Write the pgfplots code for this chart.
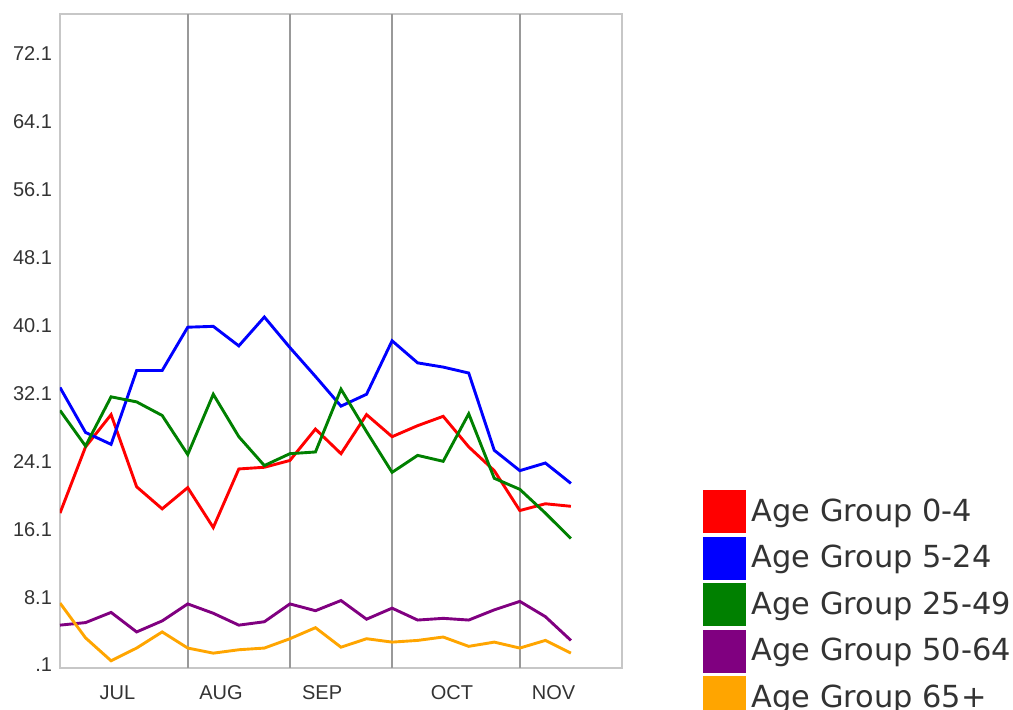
\documentclass[border=0pt]{standalone}
\usepackage{pgfplots}
\usepackage{pgfplotstable}
\pgfplotsset{compat=1.18}
\usepackage{fontspec}
\setmainfont{Liberation Sans}
\newfontfamily\legendfont{DejaVu Sans}

\definecolor{cRed}{RGB}{255,0,0}
\definecolor{cBlue}{RGB}{0,0,255}
\definecolor{cGreen}{RGB}{0,128,0}
\definecolor{cPurple}{RGB}{128,0,128}
\definecolor{cOrange}{RGB}{255,165,0}

\pgfplotstableread{
i  a    b    c    d   e
0  18.0 32.8 30.1 4.8 7.4
1  25.8 27.5 25.9 5.1 3.3
2  29.6 26.1 31.7 6.3 0.6
3  21.1 34.8 31.1 4.0 2.1
4  18.5 34.8 29.5 5.3 4.0
5  21.0 39.9 24.9 7.3 2.1
6  16.3 40.0 32.0 6.2 1.5
7  23.2 37.7 27.0 4.8 1.9
8  23.4 41.1 23.6 5.2 2.1
9  24.2 37.5 25.0 7.3 3.2
10 27.9 34.1 25.2 6.5 4.5
11 25.0 30.6 32.6 7.7 2.2
12 29.6 32.0 27.6 5.5 3.2
13 27.0 38.3 22.8 6.8 2.8
14 28.3 35.7 24.8 5.4 3.0
15 29.4 35.2 24.1 5.6 3.4
16 25.8 34.5 29.7 5.4 2.3
17 23.0 25.4 22.1 6.6 2.8
18 18.3 23.0 20.8 7.6 2.1
19 19.1 23.9 18.0 5.8 3.0
20 18.8 21.5 15.0 3.0 1.5
}\data

\begin{document}
\begin{tikzpicture}
\begin{axis}[
  scale only axis, width=281pt, height=327pt,
  xmin=0, xmax=22, ymin=-0.25, ymax=76.8,
  xtick={2.25,6.3,10.26,15.34,19.32},
  xticklabels={JUL,AUG,SEP,OCT,NOV},
  ytick={0.1,8.1,16.1,24.1,32.1,40.1,48.1,56.1,64.1,72.1},
  yticklabels={.1,8.1,16.1,24.1,32.1,40.1,48.1,56.1,64.1,72.1},
  major tick length=0pt,
  tick style={draw=none},
  extra x ticks={5,9,13,18},
  extra x tick labels={},
  extra x tick style={grid=major, major grid style={draw=black!40, line width=1pt}},
  axis line style={draw=black!22, line width=1pt},
  tick label style={font=\fontsize{10}{12}\selectfont, text=black!80},
  xticklabel style={yshift=-5.2pt},
  yticklabel style={xshift=-0.5pt},
  every axis plot/.append style={line width=1.45pt, mark=none},
  legend image code/.code={\fill[#1] (0pt,-10pt) rectangle (20pt,10pt);},
  legend style={at={(1.144,0.272)}, anchor=north west, draw=none, fill=none,
    inner sep=0pt, outer sep=0pt, row sep=1.8pt,
    font=\legendfont\fontsize{15.2}{17}\selectfont, text=black!80,
    nodes={inner sep=0pt, outer sep=0pt},
    /tikz/every odd column/.append style={column sep=3pt}},
  legend cell align=left,
]
\addplot[cRed] table[x=i,y=a]{\data};
\addlegendentry{Age Group 0-4}
\addplot[cBlue] table[x=i,y=b]{\data};
\addlegendentry{Age Group 5-24}
\addplot[cGreen] table[x=i,y=c]{\data};
\addlegendentry{Age Group 25-49}
\addplot[cPurple] table[x=i,y=d]{\data};
\addlegendentry{Age Group 50-64}
\addplot[cOrange] table[x=i,y=e]{\data};
\addlegendentry{Age Group 65+}
\coordinate (sw) at (rel axis cs:0,0);
\end{axis}
\pgfresetboundingbox
\path[use as bounding box] ([xshift=-30pt,yshift=-20.5pt]sw) rectangle ++(506.5pt,354.5pt);
\end{tikzpicture}
\end{document}
